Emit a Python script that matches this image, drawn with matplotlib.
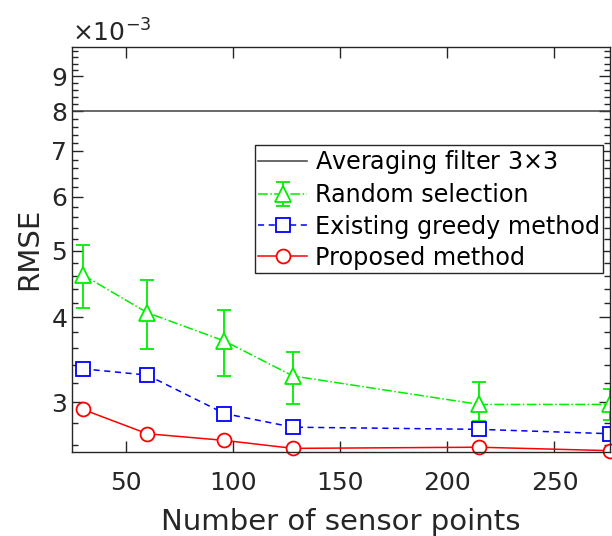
import numpy as np
import matplotlib
matplotlib.use("Agg")
import matplotlib.pyplot as plt
from matplotlib.ticker import FixedLocator, FuncFormatter

# data (RMSE in units of 1e-3)
sensors = [30, 60, 96, 128, 215, 276]
averaging = 8.0
random_sel = [4.61, 4.06, 3.69, 3.28, 2.98, 2.98]
random_hi = [5.10, 4.53, 4.09, 3.56, 3.21, 3.14]
random_lo = [4.12, 3.59, 3.28, 2.98, 2.82, 2.83]
greedy = [3.36, 3.29, 2.89, 2.76, 2.74, 2.70]
proposed = [2.93, 2.70, 2.64, 2.57, 2.58, 2.55]

x_ticks = [50, 100, 150, 200, 250]
y_ticks = [3, 4, 5, 6, 7, 8, 9]

txt = '#262626'
plt.rcParams['font.family'] = 'DejaVu Sans'

fig = plt.figure(figsize=(6.12, 5.36), dpi=100)
ax = fig.add_axes([0.118, 0.157, 0.879, 0.756])

sc = 1e-3
h1 = ax.axhline(averaging * sc, color='#404040', lw=1.1, label=r'Averaging filter 3$\times$3')

r = np.array(random_sel) * sc
yerr = [r - np.array(random_lo) * sc, np.array(random_hi) * sc - r]
h2 = ax.errorbar(sensors, r, yerr=yerr, color='#00ee00', ls='-.', lw=1.1,
                 marker='^', ms=12, mfc='white', mew=1.3, capsize=5, elinewidth=1.3,
                 capthick=1.3, label='Random selection')
h3, = ax.plot(sensors, np.array(greedy) * sc, color='#0000ff', ls=(0, (4, 3)), lw=1.1,
              marker='s', ms=10, mfc='white', mew=1.3, label='Existing greedy method')
h4, = ax.plot(sensors, np.array(proposed) * sc, color='#ff0000', ls='-', lw=1.1,
              marker='o', ms=10, mfc='white', mew=1.3, label='Proposed method', clip_on=False)

ax.set_yscale('log')
ax.set_xlim(25, 276)
ax.set_ylim(2.54e-3, 9.95e-3)

ax.xaxis.set_major_locator(FixedLocator(x_ticks))
ax.yaxis.set_major_locator(FixedLocator([v * sc for v in y_ticks]))
ax.yaxis.set_minor_locator(FixedLocator(np.arange(2.6, 10.0, 0.2) * sc))
ax.yaxis.set_major_formatter(FuncFormatter(lambda v, p: f'{v / sc:.0f}'))
ax.yaxis.set_minor_formatter(FuncFormatter(lambda v, p: ''))

ax.tick_params(which='both', direction='in', top=True, right=True, colors=txt,
               labelsize=18, width=1.0)
ax.tick_params(which='major', length=8)
ax.tick_params(which='minor', length=4)
ax.tick_params(axis='x', pad=14)
for s in ax.spines.values():
    s.set_color(txt)
    s.set_linewidth(1.0)

ax.set_xlabel('Number of sensor points', fontsize=21, color=txt, labelpad=9)
ax.set_ylabel('RMSE', fontsize=21, color=txt, labelpad=6)
ax.text(0.0, 1.0, r'$\times$10$^{\mathregular{-3}}$', transform=ax.transAxes,
        fontsize=18, color=txt, ha='left', va='bottom')

leg = ax.legend([h1, h2, h3, h4], [h.get_label() for h in (h1, h2, h3, h4)],
                loc='upper right', bbox_to_anchor=(0.987, 0.758), fontsize=17.2,
                frameon=True, fancybox=False, edgecolor=txt, framealpha=1,
                handlelength=2.05, handletextpad=0.3, borderpad=0.15,
                labelspacing=0.3, borderaxespad=0)
leg.get_frame().set_linewidth(1.0)
for t in leg.get_texts():
    t.set_color('black')

fig.savefig('out.png', dpi=100)
